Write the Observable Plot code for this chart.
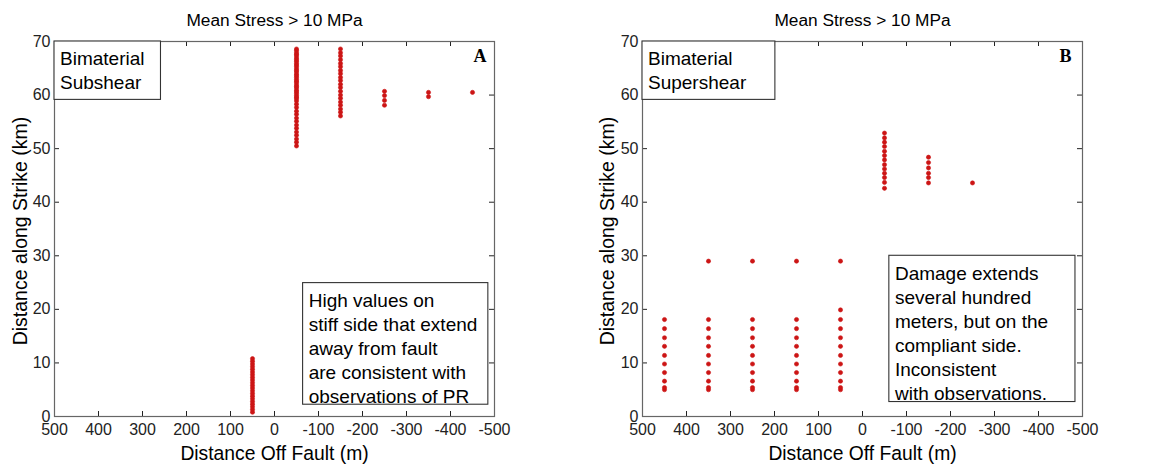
<!DOCTYPE html>
<html><head><meta charset="utf-8">
<script src="https://cdn.jsdelivr.net/npm/d3@7"></script>
<script src="https://cdn.jsdelivr.net/npm/@observablehq/plot@0.6"></script>
<style>
body{margin:0;background:#fff;}
#wrap{display:flex;width:1158px;height:466px;}
#wrap svg{font-family: Arial, "Liberation Sans", sans-serif; background:#fff; overflow:visible;}
</style></head><body><div id="wrap"></div>
<script>
// ---------- data ----------
const title = "Mean Stress > 10 MPa";
const xLabel = "Distance Off Fault (m)";
const yLabel = "Distance along Strike (km)";
const xTicks = [500, 400, 300, 200, 100, 0, -100, -200, -300, -400, -500];
const yTicks = [0, 10, 20, 30, 40, 50, 60, 70];

// Panel A: Bimaterial Subshear (x = distance off fault, y = distance along strike)
const subshearColumns = [50, -50, -150, -250, -350, -450];
const subshearY = [
  [0.8, 1.3, 1.8, 2.3, 2.8, 3.3, 3.8, 4.3, 4.8, 5.3, 5.8, 6.3, 6.8, 7.3, 7.8, 8.3, 8.8, 9.3, 9.8, 10.3, 10.8],
  [50.5, 51.2, 51.8, 52.5, 53.1, 53.8, 54.4, 55.1, 55.7, 56.4, 57.0, 57.7, 58.3, 58.9, 59.3, 59.6, 59.9, 60.3, 60.6, 60.9,
   61.3, 61.6, 61.9, 62.3, 62.6, 62.9, 63.3, 63.6, 63.9, 64.3, 64.6, 64.9, 65.3, 65.6, 65.9, 66.3, 66.6, 66.9, 67.3, 67.6,
   67.9, 68.3, 68.6],
  [56.1, 56.8, 57.4, 58.1, 58.7, 59.4, 60.0, 60.7, 61.4, 62.0, 62.7, 63.3, 64.0, 64.6, 65.3, 65.9, 66.6, 67.3, 67.9, 68.6],
  [58.1, 59.0, 59.9, 60.7],
  [59.7, 60.5],
  [60.5]
];

// Panel B: Bimaterial Supershear
const supershearColumns = [450, 350, 250, 150, 50, -50, -150, -250];
const supershearY = [
  [5.0, 5.4, 6.6, 8.2, 9.8, 11.4, 13.1, 14.7, 16.4, 18.1],
  [5.0, 5.4, 6.6, 8.2, 9.8, 11.4, 13.1, 14.7, 16.4, 18.1, 29.0],
  [5.0, 5.4, 6.6, 8.2, 9.8, 11.4, 13.1, 14.7, 16.4, 18.1, 29.0],
  [5.0, 5.4, 6.6, 8.2, 9.8, 11.4, 13.1, 14.7, 16.4, 18.1, 29.0],
  [5.0, 5.4, 6.6, 8.2, 9.8, 11.4, 13.1, 14.7, 16.4, 18.1, 19.9, 29.0],
  [42.6, 43.7, 44.6, 45.4, 46.2, 47.0, 47.9, 48.7, 49.5, 50.4, 51.2, 52.0, 52.9],
  [43.6, 44.6, 45.4, 46.4, 47.4, 48.4],
  [43.6]
];

// annotations (text + box corners in data units)
const panelLetters = ["A", "B"];
const cornerNotes = ["Bimaterial\nSubshear", "Bimaterial\nSupershear"];
const cornerBoxRight = [258, 198];
const cornerBoxBottom = [59.1, 59.1];
const commentNotes = [
  "High values on\nstiff side that extend\naway from fault\nare consistent with\nobservations of PR",
  "Damage extends\nseveral hundred\nmeters, but on the\ncompliant side.\nInconsistent\nwith observations."
];
const commentBoxLeft = [-65, -61];
const commentBoxRight = [-486, -484];
const commentBoxBottom = [2.2, 2.7];
const commentBoxTop = [24.9, 30.0];

// ---------- build ----------
function toRows(cols, ys) {
  const rows = [];
  cols.forEach((c, i) => ys[i].forEach(v => rows.push({x: c, y: v})));
  return rows;
}

function panel(i, rows, marginLeft, marginRight, ylabDx) {
  const W = 579, H = 466, mt = 41, mb = 50;
  const innerW = W - marginLeft - marginRight, innerH = H - mt - mb;
  const ink = "#222", frameInk = "#666";
  return Plot.plot({
    width: W, height: H,
    marginLeft, marginRight, marginTop: mt, marginBottom: mb,
    x: {domain: [500, -500], label: null},
    y: {domain: [0, 70], label: null},
    style: {fontFamily: 'Arial, "Liberation Sans", sans-serif', color: ink, background: "#fff"},
    marks: [
      Plot.axisX(xTicks, {tickSize: 0, tickPadding: 7, fontSize: 16, tickFormat: d => String(d), label: null, fill: ink}),
      Plot.axisY(yTicks, {tickSize: 0, tickPadding: 4, fontSize: 16, tickFormat: d => String(d), label: null, fill: ink}),
      // inward ticks on all four sides
      Plot.tickX(xTicks, {x: d => d, insetTop: innerH - 5, stroke: ink}),
      Plot.tickX(xTicks, {x: d => d, insetBottom: innerH - 5, stroke: ink}),
      Plot.tickY(yTicks, {y: d => d, insetRight: innerW - 5, stroke: ink}),
      Plot.tickY(yTicks, {y: d => d, insetLeft: innerW - 5, stroke: ink}),
      Plot.frame({stroke: frameInk, strokeWidth: 1.2}),
      // data
      Plot.dot(rows, {x: "x", y: "y", r: 2.1, fill: "#cc1515", stroke: "#cc1515", strokeWidth: 0.6}),
      // annotation boxes
      Plot.rect([0], {x1: 500, x2: cornerBoxRight[i], y1: cornerBoxBottom[i], y2: 70, fill: "#fff", stroke: "#333", strokeWidth: 1.1}),
      Plot.text([cornerNotes[i]], {x: 500, y: 70, text: d => d, textAnchor: "start", lineAnchor: "top",
        dx: 5.5, dy: 6, fontSize: 19, lineHeight: 1.263, fill: "#000"}),
      Plot.rect([0], {x1: commentBoxLeft[i], x2: commentBoxRight[i], y1: commentBoxBottom[i], y2: commentBoxTop[i],
        fill: "#fff", stroke: "#333", strokeWidth: 1.1}),
      Plot.text([commentNotes[i]], {x: commentBoxLeft[i], y: commentBoxTop[i], text: d => d, textAnchor: "start",
        lineAnchor: "top", dx: 5.6, dy: 7, fontSize: 19, lineHeight: 1.263, fill: "#000"}),
      // panel letter
      Plot.text([panelLetters[i]], {frameAnchor: "top-right", text: d => d, dx: i === 0 ? -8 : -11, dy: 8,
        lineAnchor: "top", textAnchor: "end", fontSize: 18, fontWeight: "bold",
        fontFamily: '"Times New Roman", "Liberation Serif", serif', fill: "#000"}),
      // title and axis labels
      Plot.text([title], {frameAnchor: "top", text: d => d, dy: -21, lineAnchor: "middle", textAnchor: "middle", fontSize: 17.3, fill: "#000"}),
      Plot.text([xLabel], {frameAnchor: "bottom", text: d => d, dy: 37, lineAnchor: "middle", textAnchor: "middle", fontSize: 19.3, fill: "#000"}),
      Plot.text([yLabel], {frameAnchor: "left", text: d => d, dx: ylabDx, dy: 2, rotate: -90, lineAnchor: "middle", textAnchor: "middle", fontSize: 19.5, fill: "#000"})
    ]
  });
}

const wrap = document.getElementById("wrap");
wrap.appendChild(panel(0, toRows(subshearColumns, subshearY), 54, 85, -34));
wrap.appendChild(panel(1, toRows(supershearColumns, supershearY), 63, 76, -35));
</script>
</body></html>
